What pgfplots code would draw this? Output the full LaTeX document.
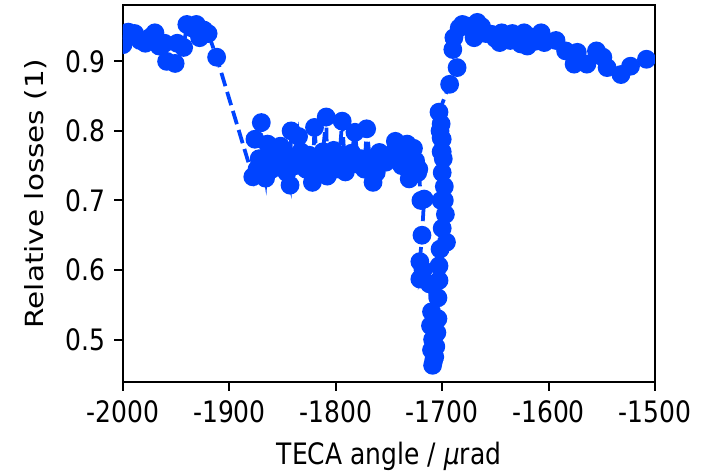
\documentclass[border=0pt]{standalone}
\usepackage{fontspec}
\setmainfont{DejaVu Sans}
% the reference is stretched vertically: tall narrow glyphs for horizontal text,
% long glyphs for the rotated label
\newfontfamily\hfont[FakeStretch=0.847]{DejaVu Sans}
\newfontfamily\vfont[FakeStretch=1.18]{DejaVu Sans}
\usepackage{pgfplots}
\pgfplotsset{compat=1.18}
\definecolor{cblue}{HTML}{0044FF}

\pgfplotstableread{
x y
-2003 0.938
-2000 0.924
-1995 0.942
-1989 0.940
-1984 0.930
-1979 0.926
-1974 0.935
-1970 0.941
-1966 0.922
-1961 0.926
-1959 0.900
-1951 0.897
-1949 0.926
-1943 0.920
-1940 0.953
-1935 0.948
-1931 0.953
-1928 0.934
-1924 0.945
-1920 0.940
-1912 0.906
-1878 0.734
-1876 0.788
-1874 0.745
-1872 0.760
-1870 0.812
-1868 0.752
-1866 0.732
-1864 0.781
-1862 0.770
-1860 0.745
-1858 0.762
-1855 0.775
-1852 0.778
-1850 0.750
-1848 0.765
-1846 0.740
-1843 0.722
-1842 0.800
-1840 0.760
-1838 0.750
-1835 0.792
-1833 0.770
-1830 0.755
-1828 0.745
-1825 0.765
-1822 0.726
-1820 0.805
-1818 0.760
-1815 0.748
-1812 0.770
-1809 0.820
-1808 0.735
-1805 0.760
-1802 0.772
-1800 0.745
-1797 0.755
-1794 0.814
-1791 0.741
-1788 0.760
-1785 0.768
-1782 0.798
-1779 0.752
-1776 0.760
-1773 0.745
-1771 0.803
-1768 0.760
-1765 0.726
-1762 0.740
-1759 0.769
-1756 0.760
-1753 0.755
-1750 0.765
-1747 0.760
-1744 0.785
-1741 0.765
-1738 0.750
-1736 0.770
-1733 0.781
-1731 0.731
-1729 0.760
-1727 0.775
-1725 0.757
-1723 0.740
-1722 0.745
-1720 0.700
-1717 0.702
-1719 0.650
-1721 0.612
-1721 0.587
-1718 0.600
-1712 0.580
-1710 0.540
-1711 0.520
-1709 0.500
-1710 0.485
-1708 0.470
-1709 0.463
-1707 0.475
-1706 0.490
-1705 0.510
-1704 0.530
-1704 0.560
-1703 0.585
-1703 0.606
-1702 0.630
-1700 0.660
-1701 0.700
-1700 0.740
-1701 0.770
-1700 0.788
-1702 0.800
-1701 0.790
-1699 0.760
-1698 0.720
-1697 0.680
-1696 0.640
-1698 0.700
-1700 0.770
-1701 0.810
-1703 0.827
-1693 0.867
-1686 0.891
-1690 0.917
-1689 0.934
-1684 0.948
-1681 0.953
-1677 0.951
-1673 0.948
-1670 0.934
-1667 0.956
-1663 0.950
-1659 0.940
-1654 0.939
-1650 0.933
-1646 0.927
-1644 0.941
-1640 0.935
-1636 0.930
-1634 0.940
-1630 0.932
-1626 0.925
-1623 0.941
-1620 0.922
-1616 0.935
-1612 0.929
-1607 0.941
-1604 0.927
-1593 0.930
-1584 0.915
-1573 0.913
-1576 0.896
-1564 0.896
-1555 0.915
-1549 0.906
-1545 0.891
-1532 0.881
-1523 0.893
-1508 0.903
}\losses

\begin{document}
\begin{tikzpicture}
\begin{axis}[
  name=ax,
  scale only axis,
  width=212.8pt, height=150.8pt,
  xmin=-2000, xmax=-1500,
  ymin=0.439, ymax=0.981,
  xtick={-2000,-1900,-1800,-1700,-1600,-1500},
  xticklabels={-2000,-1900,-1800,-1700,-1600,-1500},
  ytick={0.5,0.6,0.7,0.8,0.9},
  yticklabels={0.5,0.6,0.7,0.8,0.9},
  xtick pos=bottom, ytick pos=left,
  tick align=outside,
  major tick length=3.5pt,
  every tick/.style={black, line width=0.8pt},
  axis line style={line width=0.8pt, black},
  tick label style={font=\hfont\fontsize{11.8}{14}\selectfont},
  x tick label style={yshift=-0.6pt},
  xlabel style={font=\hfont\fontsize{11.8}{14}\selectfont, yshift=-0.6pt},
  ylabel style={font=\vfont\fontsize{10}{12}\selectfont, xshift=0pt, yshift=0.6pt},
  xlabel={TECA angle / {\itshape μ}rad},
  ylabel={Relative losses (1)},
  clip marker paths=true,
]
\addplot[cblue, line width=1.5pt, dash pattern=on 5.55pt off 2.4pt,
  mark=*, mark size=3pt, mark options={solid, draw=none, fill=cblue}]
  table[x=x, y=y] {\losses};
\end{axis}
\pgfresetboundingbox
\useasboundingbox ([shift={(-49.2pt,-37.6pt)}]ax.south west) rectangle ([shift={(19.6pt,2pt)}]ax.north east);
\end{tikzpicture}
\end{document}
